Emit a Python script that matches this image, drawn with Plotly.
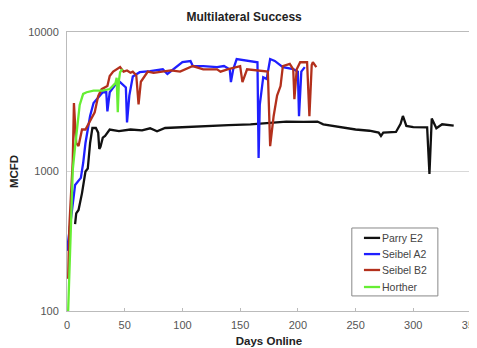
import plotly.graph_objects as go

# Parry E2
parry_days = [7, 8, 10, 13, 16, 18, 20, 22, 25, 27, 28, 29, 31, 33, 37, 45, 55, 65, 72, 78, 85, 100, 120, 140, 159, 176, 190, 205, 217, 222, 235, 250, 262, 270, 272, 274, 285, 289, 291, 294, 300, 312, 314, 316, 320, 325, 335]
parry_vals = [420, 500, 530, 700, 1000, 1050, 1600, 2050, 2050, 1900, 1450, 1500, 1750, 1800, 2000, 1950, 2000, 1970, 2040, 1940, 2050, 2070, 2120, 2150, 2180, 2220, 2280, 2270, 2280, 2180, 2100, 2000, 1960, 1900, 1800, 1900, 1920, 2200, 2500, 2120, 2080, 2070, 960, 2400, 2040, 2180, 2130]

# Seibel A2
a2_days = [0, 7, 12, 14, 16, 20, 23, 26, 31, 34, 35, 37, 42, 46, 51, 52, 54, 57, 63, 72, 83, 87, 100, 107, 109, 118, 130, 136, 141, 142, 144, 147, 156, 165, 166, 167, 170, 173, 176, 180, 187, 196, 200, 201, 203, 205, 206]
a2_vals = [270, 800, 900, 1150, 1600, 2500, 3100, 3300, 3700, 3700, 2700, 3700, 4200, 4370, 4000, 2250, 3500, 4800, 5150, 5240, 5400, 5000, 6080, 6190, 5700, 5700, 5600, 5700, 5400, 4370, 5400, 6400, 6200, 6070, 1250, 3000, 4740, 4600, 6400, 6200, 5600, 5420, 5200, 2490, 5200, 5420, 5600]

# Seibel B2
b2_days = [1, 2, 5, 6, 7, 8, 10, 13, 16, 20, 24, 27, 30, 35, 37, 40, 46, 49, 52, 55, 57, 60, 62, 64, 67, 70, 75, 81, 90, 98, 109, 118, 130, 133, 139, 150, 152, 156, 170, 174, 176, 179, 182, 185, 187, 193, 196, 197, 199, 202, 208, 210, 212, 213, 216]
b2_vals = [170, 400, 1200, 3100, 2200, 1600, 1520, 2000, 2000, 2300, 2660, 3470, 3890, 4100, 4830, 5200, 5600, 5200, 5300, 5100, 5200, 4900, 3030, 4400, 4830, 5200, 5100, 5200, 5300, 5200, 5700, 5400, 5400, 5200, 5400, 5700, 4370, 5400, 5200, 5200, 1520, 2490, 3500, 4100, 5700, 5900, 5400, 3300, 5400, 6070, 6070, 2490, 5800, 6070, 5600]

# Horther
h_days = [1, 3, 5, 7, 9, 11, 14, 17, 23, 31, 37, 42, 43, 44, 45, 46, 48]
h_vals = [100, 400, 1030, 1500, 2110, 3000, 3600, 3700, 3800, 3800, 3900, 4300, 4700, 2660, 4500, 5150, 5420]

series_names = ["Parry E2", "Seibel A2", "Seibel B2", "Horther"]
series_days = [parry_days, a2_days, b2_days, h_days]
series_vals = [parry_vals, a2_vals, b2_vals, h_vals]
series_colors = ["#111111", "#1f1fff", "#b3301c", "#66ee33"]

fig = go.Figure()
for name, d, v, c in zip(series_names, series_days, series_vals, series_colors):
    fig.add_trace(go.Scatter(x=d, y=v, mode="lines", name=name, showlegend=False,
                             line=dict(color=c, width=2.3)))

# custom compact legend (Excel-style)
lg_x0, lg_x1, lg_top, lg_bot = 0.705, 0.918, 0.2975, 0.054
fig.add_shape(type="rect", xref="paper", yref="paper", x0=lg_x0, x1=lg_x1, y0=lg_bot, y1=lg_top,
              line=dict(color="#888", width=1), fillcolor="white", layer="above")
entry_y = [0.262, 0.204, 0.147, 0.086]
for name, c, ey in zip(series_names, series_colors, entry_y):
    fig.add_shape(type="line", xref="paper", yref="paper", x0=0.735, x1=0.775, y0=ey, y1=ey,
                  line=dict(color=c, width=2.3), layer="above")
    fig.add_annotation(xref="paper", yref="paper", x=0.775, y=ey, text=name, showarrow=False,
                       xanchor="left", yanchor="middle", xshift=0,
                       font=dict(size=10.5, color="#444"))

fig.update_layout(
    width=477, height=340,
    margin=dict(l=59, r=14, t=24, b=37, autoexpand=False),
    paper_bgcolor="white", plot_bgcolor="white",
    font=dict(family="Liberation Sans, Arial, sans-serif", size=11, color="#555"),
    title=dict(text="<b>Multilateral Success</b>", x=0.495, xanchor="center",
               xref="container", yref="container",
               y=0.975, yanchor="middle",
               font=dict(size=12, color="#222")),
    showlegend=False,
)
fig.update_xaxes(range=[0, 350], tickvals=[0, 50, 100, 150, 200, 250, 300, 350],
                 showgrid=False, showline=True, linecolor="#bbb", mirror=True,
                 ticks="inside", ticklen=3, tickcolor="#bbb", zeroline=False,
                 automargin=False, ticklabelstandoff=4,
                 title=dict(text="<b>Days Online</b>", font=dict(size=11.5, color="#222"), standoff=6))
fig.update_yaxes(type="log", range=[2, 4], tickvals=[100, 1000, 10000],
                 ticktext=["100", "1000", "10000"],
                 showgrid=True, gridcolor="#d8d8d8", showline=True, linecolor="#bbb", mirror=True,
                 ticks="", zeroline=False, automargin=False, ticklabelstandoff=5,
                 title=dict(text="<b>MCFD</b>", font=dict(size=11.5, color="#222"), standoff=10))

fig.write_html("out.html")
